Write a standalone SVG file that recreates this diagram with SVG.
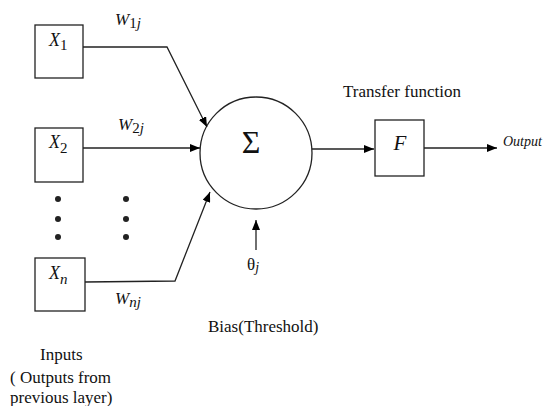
<svg xmlns="http://www.w3.org/2000/svg" width="547" height="406" viewBox="0 0 547 406">
<defs>
<marker id="ah" viewBox="0 0 10 8" refX="10" refY="4" markerWidth="10" markerHeight="8" markerUnits="userSpaceOnUse" orient="auto">
<path d="M0,0 L10,4 L0,8 Z" fill="#000"/>
</marker>
<style>
.box{fill:#fff;stroke:#222;stroke-width:1.3}
.ln{fill:none;stroke:#222;stroke-width:1.3}
.dot{fill:#222}
text{font-family:'Liberation Serif','Times New Roman',serif;fill:#111}
.it{font-style:italic}
.tx{font-size:17px}
</style>
</defs>
<rect width="547" height="406" fill="#fff"/>
<g id="x1">
<rect class="box" x="35" y="25" width="48" height="53"/>
<text class="it" x="49" y="46" font-size="18">X<tspan font-style="normal" font-size="15" dy="4">1</tspan></text>
</g>
<g id="x2">
<rect class="box" x="35" y="128" width="48" height="54"/>
<text class="it" x="49" y="148" font-size="18">X<tspan font-style="normal" font-size="15" dy="5">2</tspan></text>
</g>
<g id="xn">
<rect class="box" x="35" y="258" width="50" height="53"/>
<text class="it" x="49" y="279" font-size="18">X<tspan font-size="15" dy="5">n</tspan></text>
</g>
<g id="dots">
<circle class="dot" cx="58" cy="199" r="3"/>
<circle class="dot" cx="58" cy="219" r="3"/>
<circle class="dot" cx="58" cy="237" r="3"/>
<circle class="dot" cx="126" cy="199" r="3"/>
<circle class="dot" cx="126" cy="219" r="3"/>
<circle class="dot" cx="126" cy="237" r="3"/>
</g>
<g id="sum">
<circle class="box" cx="256" cy="153" r="56"/>
<text x="251" y="153" font-size="32" text-anchor="middle">Σ</text>
</g>
<g id="f">
<rect class="box" x="375" y="120" width="49" height="56"/>
<text class="it" x="400" y="150" font-size="21" text-anchor="middle">F</text>
</g>
<g id="connectors">
<path class="ln" d="M83,47 L167,47 L207,127" marker-end="url(#ah)"/>
<path class="ln" d="M83,148 L200,148" marker-end="url(#ah)"/>
<path class="ln" d="M85,282 L175,281 L210,192" marker-end="url(#ah)"/>
<path class="ln" d="M312,149 L374,149" marker-end="url(#ah)"/>
<path class="ln" d="M424,148 L497,148" marker-end="url(#ah)"/>
<path class="ln" d="M256,250 L256,220" marker-end="url(#ah)"/>
</g>
<g id="labels">
<text class="it" x="115" y="25" font-size="17">W<tspan font-style="normal" font-size="15" dy="3">1</tspan><tspan font-size="15">j</tspan></text>
<text class="it" x="118" y="130" font-size="17">W<tspan font-style="normal" font-size="15" dy="3">2</tspan><tspan font-size="15">j</tspan></text>
<text class="it" x="115" y="304" font-size="17">W<tspan font-size="15" dy="3">nj</tspan></text>
<text class="tx" x="247" y="270">θ<tspan font-style="italic" font-size="14" dy="2">j</tspan></text>
<text class="tx" x="343" y="97">Transfer function</text>
<text class="it" x="503" y="146" font-size="14">Output</text>
<text class="tx" x="208" y="332">Bias(Threshold)</text>
<text class="tx" x="40" y="360">Inputs</text>
<text class="tx" x="10" y="383">( Outputs from</text>
<text class="tx" x="10" y="403">previous layer)</text>
</g>
</svg>
